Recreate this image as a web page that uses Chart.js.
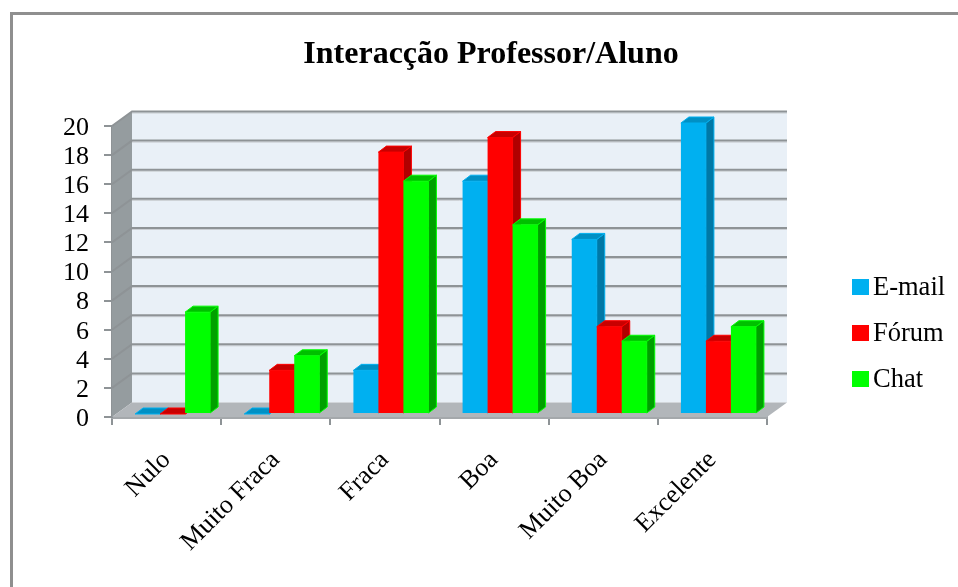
<!DOCTYPE html>
<html>
<head>
<meta charset="utf-8">
<style>
html, body { margin: 0; padding: 0; background: #fff; overflow: hidden; }
canvas { display: block; }
</style>
</head>
<body>
<canvas id="myChart" width="958" height="587"></canvas>
<script src="https://cdn.jsdelivr.net/npm/chart.js@4/dist/chart.umd.min.js"></script>
<script>
var categories = ["Nulo", "Muito Fraca", "Fraca", "Boa", "Muito Boa", "Excelente"];
var email = [0, 0, 3, 16, 12, 20];
var forum = [0, 3, 18, 19, 6, 5];
var chat = [7, 4, 16, 13, 5, 6];
var titleText = "Interacção Professor/Aluno";

var FONT = '"Liberation Serif", "Times New Roman", serif';
var GRID = "#8e9396";

// depth of the fake 3d box and of the bars
var wallX = 20, wallY = -14.5;
var barShiftX = 6, barShiftY = -3;
var barDepthX = 8, barDepthY = -6;

function poly(ctx, pts, fill, stroke) {
    ctx.beginPath();
    ctx.moveTo(pts[0][0], pts[0][1]);
    for (var i = 1; i < pts.length; i++) ctx.lineTo(pts[i][0], pts[i][1]);
    ctx.closePath();
    ctx.fillStyle = fill;
    ctx.fill();
    if (stroke) {
        ctx.strokeStyle = stroke;
        ctx.lineWidth = 1;
        ctx.stroke();
    }
}

var frame = {
    id: "frame",
    beforeDraw: function (chart) {
        var ctx = chart.ctx;
        ctx.save();
        ctx.strokeStyle = "#8f8f8f";
        ctx.lineWidth = 3;
        ctx.beginPath();
        ctx.moveTo(11.5, 587);
        ctx.lineTo(11.5, 13.5);
        ctx.lineTo(958, 13.5);
        ctx.stroke();
        ctx.restore();
    }
};

var box3d = {
    id: "box3d",
    beforeDatasetsDraw: function (chart) {
        var ctx = chart.ctx, a = chart.chartArea, y = chart.scales.y;
        ctx.save();
        // back wall, side wall, floor
        poly(ctx, [[a.left + wallX, a.top + wallY], [a.right + wallX, a.top + wallY], [a.right + wallX, a.bottom + wallY], [a.left + wallX, a.bottom + wallY]], "#e9f0f7");
        poly(ctx, [[a.left, a.top], [a.left + wallX, a.top + wallY], [a.left + wallX, a.bottom + wallY], [a.left, a.bottom]], "#959c9f");
        poly(ctx, [[a.left, a.bottom], [a.left + wallX, a.bottom + wallY], [a.right + wallX, a.bottom + wallY], [a.right, a.bottom]], "#b2b6ba");
        // grid lines wrap around the side wall
        y.ticks.forEach(function (t) {
            if (t.value === 0) return;
            var py = y.getPixelForValue(t.value);
            ctx.strokeStyle = "#c8ccd0";
            ctx.lineWidth = 1;
            ctx.beginPath();
            ctx.moveTo(a.left + wallX, py + wallY + 1.5);
            ctx.lineTo(a.right + wallX, py + wallY + 1.5);
            ctx.stroke();
            ctx.strokeStyle = GRID;
            ctx.lineWidth = 2;
            ctx.beginPath();
            ctx.moveTo(a.left, py);
            ctx.lineTo(a.left + wallX, py + wallY);
            ctx.lineTo(a.right + wallX, py + wallY);
            ctx.stroke();
        });
        ctx.restore();
    },
    // the library paints the last dataset first, here the right hand bar has to cover the side of its neighbour
    beforeDatasetDraw: function () {
        return false;
    },
    afterDatasetsDraw: function (chart) {
        var ctx = chart.ctx;
        ctx.save();
        ctx.translate(barShiftX, barShiftY);
        chart.getSortedVisibleDatasetMetas().forEach(function (meta) {
            var ds = chart.data.datasets[meta.index];
            meta.data.forEach(function (bar) {
                var l = bar.x - bar.width / 2, r = bar.x + bar.width / 2;
                poly(ctx, [[r, bar.y], [r + barDepthX, bar.y + barDepthY], [r + barDepthX, bar.base + barDepthY], [r, bar.base]], ds.sideColor, ds.backgroundColor);
                poly(ctx, [[l, bar.y], [l + barDepthX, bar.y + barDepthY], [r + barDepthX, bar.y + barDepthY], [r, bar.y]], ds.topColor, ds.backgroundColor);
            });
            meta.data.forEach(function (bar) {
                bar.draw(ctx);
            });
        });
        ctx.restore();
    }
};

var labelsText = {
    id: "labelsText",
    afterDraw: function (chart) {
        var ctx = chart.ctx;
        ctx.save();
        ctx.fillStyle = "#000";
        ctx.textBaseline = "middle";
        ctx.textAlign = "center";
        ctx.font = "bold 32px " + FONT;
        ctx.fillText(titleText, 491, 55);
        ctx.textAlign = "left";
        ctx.font = "26.5px " + FONT;
        chart.data.datasets.forEach(function (ds, i) {
            var ly = 287 + i * 46;
            ctx.fillStyle = ds.backgroundColor;
            ctx.fillRect(852, ly - 8, 17, 16);
            ctx.fillStyle = "#000";
            ctx.fillText(ds.label, 873, ly + 1.5);
        });
        ctx.restore();
    }
};

new Chart(document.getElementById("myChart"), {
    type: "bar",
    data: {
        labels: categories,
        datasets: [
            { label: "E-mail", data: email, backgroundColor: "#00b0f0", topColor: "#0090c4", sideColor: "#0078a6" },
            { label: "Fórum", data: forum, backgroundColor: "#ff0000", topColor: "#c80000", sideColor: "#b00000" },
            { label: "Chat", data: chat, backgroundColor: "#00ff00", topColor: "#00c000", sideColor: "#00a000" }
        ]
    },
    options: {
        responsive: false,
        animation: false,
        layout: { padding: { left: 0, right: 191, top: 126, bottom: 0 } },
        datasets: { bar: { barPercentage: 1, categoryPercentage: 0.687 } },
        scales: {
            x: {
                afterFit: function (s) { s.height = 170; },
                grid: { offset: true, drawOnChartArea: false, tickLength: 8, color: GRID, lineWidth: 2 },
                border: { color: "#a4a8ab", width: 3 },
                ticks: { color: "#000", autoSkip: false, font: { family: FONT, size: 26 }, minRotation: 45, maxRotation: 45, padding: 20 }
            },
            y: {
                min: 0,
                max: 20,
                afterFit: function (s) { s.width = 112; },
                grid: { drawOnChartArea: false, tickLength: 8, color: GRID, lineWidth: 2 },
                border: { color: GRID, width: 2 },
                ticks: { color: "#000", stepSize: 2, autoSkip: false, labelOffset: 2, font: { family: FONT, size: 26 }, padding: 15 }
            }
        },
        plugins: {
            title: { display: false },
            tooltip: { enabled: false },
            legend: { display: false }
        }
    },
    plugins: [frame, box3d, labelsText]
});
</script>
</body>
</html>
